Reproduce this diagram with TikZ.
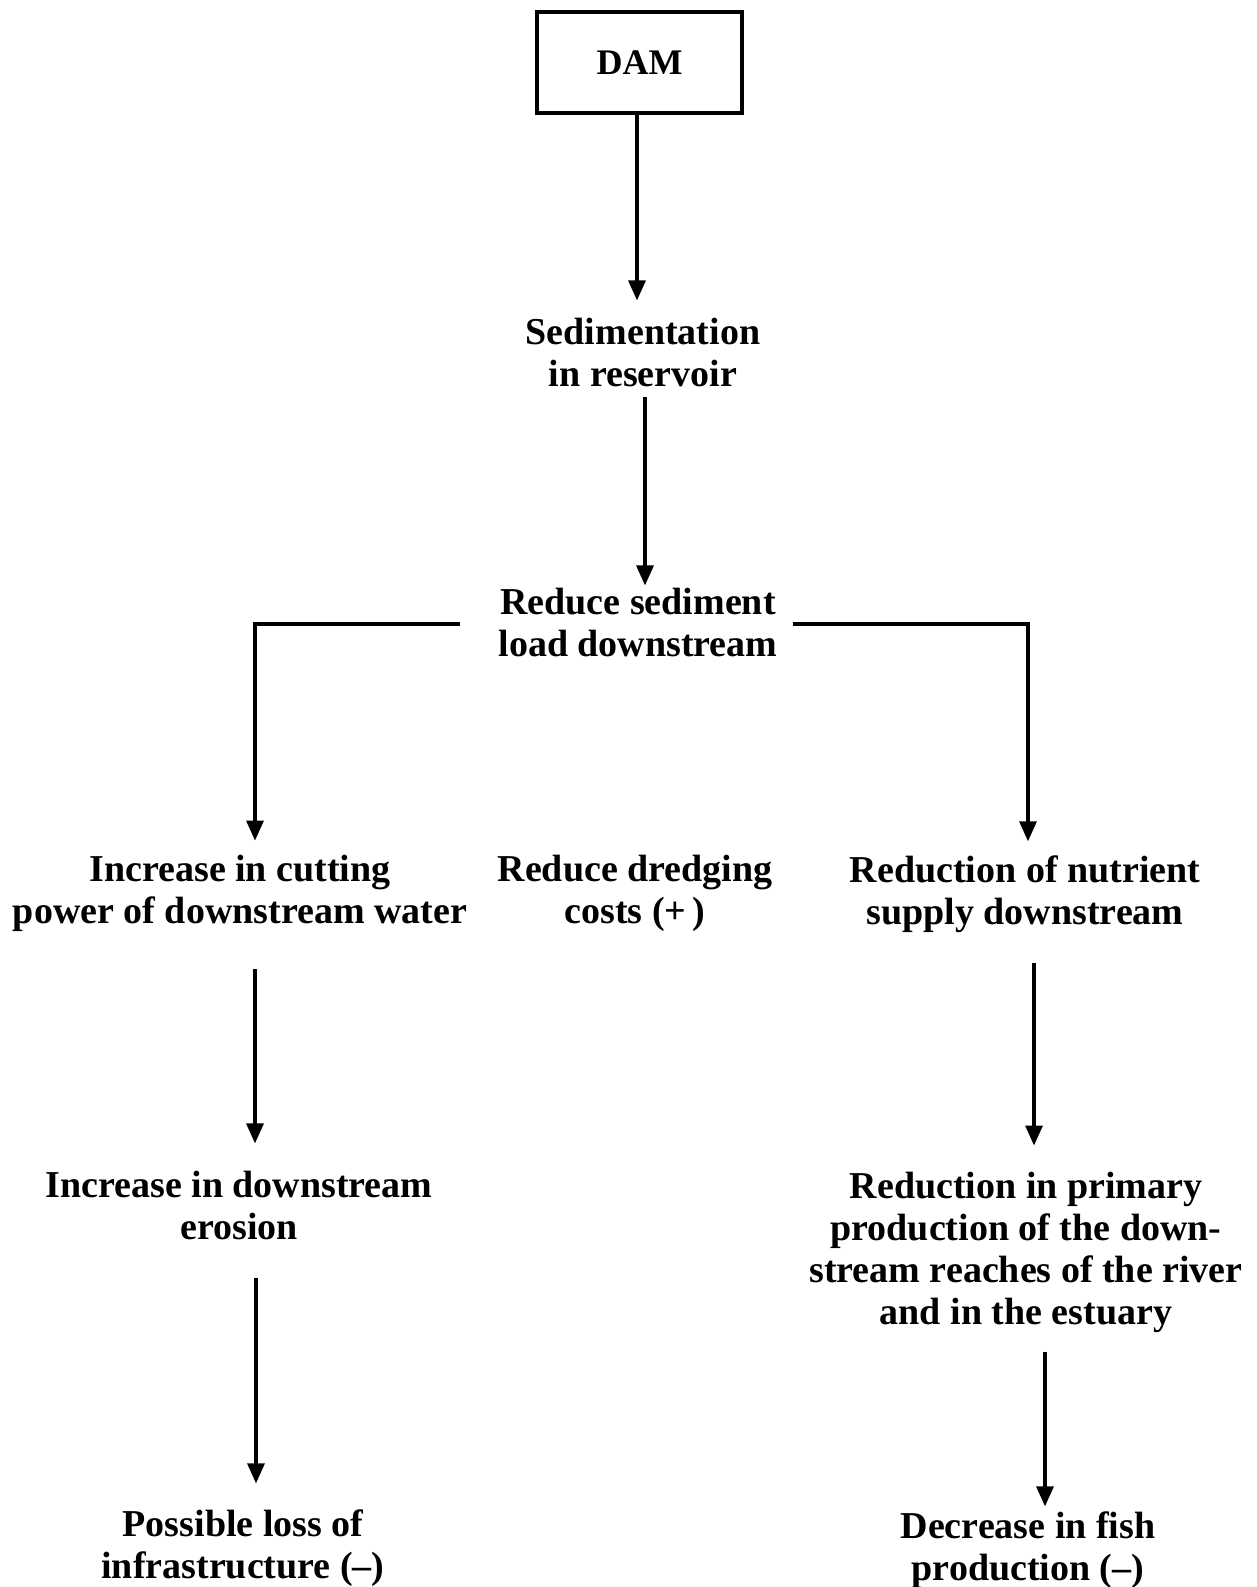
\documentclass[tikz,border=0pt]{standalone}
\usepackage{fontspec}
\setmainfont{Liberation Serif}
\usetikzlibrary{arrows.meta}
\begin{document}
\begin{tikzpicture}[x=1pt,y=-1pt,
  lbl/.style={align=center, inner sep=0pt, font=\fontsize{38}{42}\selectfont\bfseries},
  box/.style={draw, line width=4pt, inner sep=0pt, minimum width=205pt, minimum height=101pt,
              font=\fontsize{36}{40}\selectfont\bfseries},
  arr/.style={line width=3.2pt, -{Triangle[width=17pt,length=20pt]}}]
  \fill[white] (0,0) rectangle (1256,1587);
  \useasboundingbox (0,0) rectangle (1256,1587);

  % nodes
  \node[box] (dam)    at (639.5,62.5) {DAM};
  \node[lbl] (sed)    at (643,352)  {Sedimentation\\in reservoir};
  \node[lbl] (red)    at (638,622)  {Reduce sediment\\load downstream};
  \node[lbl] (cut)    at (240,893)  {Increase in cutting\\power of downstream water};
  \node[lbl] (dredge) at (635,893)  {Reduce dredging\\costs (+\,)};
  \node[lbl] (nutr)   at (1025,894) {Reduction of nutrient\\supply downstream};
  \node[lbl] (eros)   at (239,1205) {Increase in downstream\\erosion};
  \node[lbl] (prim)   at (1026,1252) {Reduction in primary\\production of the down-\\stream reaches of the river\\and in the estuary};
  \node[lbl] (loss)   at (243,1548) {Possible loss of\\infrastructure (–)};
  \node[lbl] (fish)   at (1028,1550) {Decrease in fish\\production (–)};

  % connectors
  \draw[arr] ([xshift=-2.5pt]dam.south) -- ([xshift=-6pt,yshift=17pt]sed.north);
  \draw[arr] ([xshift=2pt,yshift=-10pt]sed.south) -- ([xshift=7pt,yshift=2pt]red.north);
  \draw[arr] ([shift={(-38pt,-2pt)}]red.west) -| ([xshift=15pt,yshift=14pt]cut.north);
  \draw[arr] ([shift={(15pt,-2pt)}]red.east) -| ([xshift=3pt,yshift=14pt]nutr.north);
  \draw[arr] ([xshift=15pt,yshift=-38pt]cut.south) -- ([xshift=16pt,yshift=27pt]eros.north);
  \draw[arr] ([xshift=17pt,yshift=-38pt]eros.south) -- ([xshift=13pt,yshift=26pt]loss.north);
  \draw[arr] ([xshift=9pt,yshift=-30pt]nutr.south) -- ([xshift=8pt,yshift=26pt]prim.north);
  \draw[arr] ([xshift=19pt,yshift=-19pt]prim.south) -- ([xshift=17pt,yshift=5pt]fish.north);
\end{tikzpicture}
\end{document}
